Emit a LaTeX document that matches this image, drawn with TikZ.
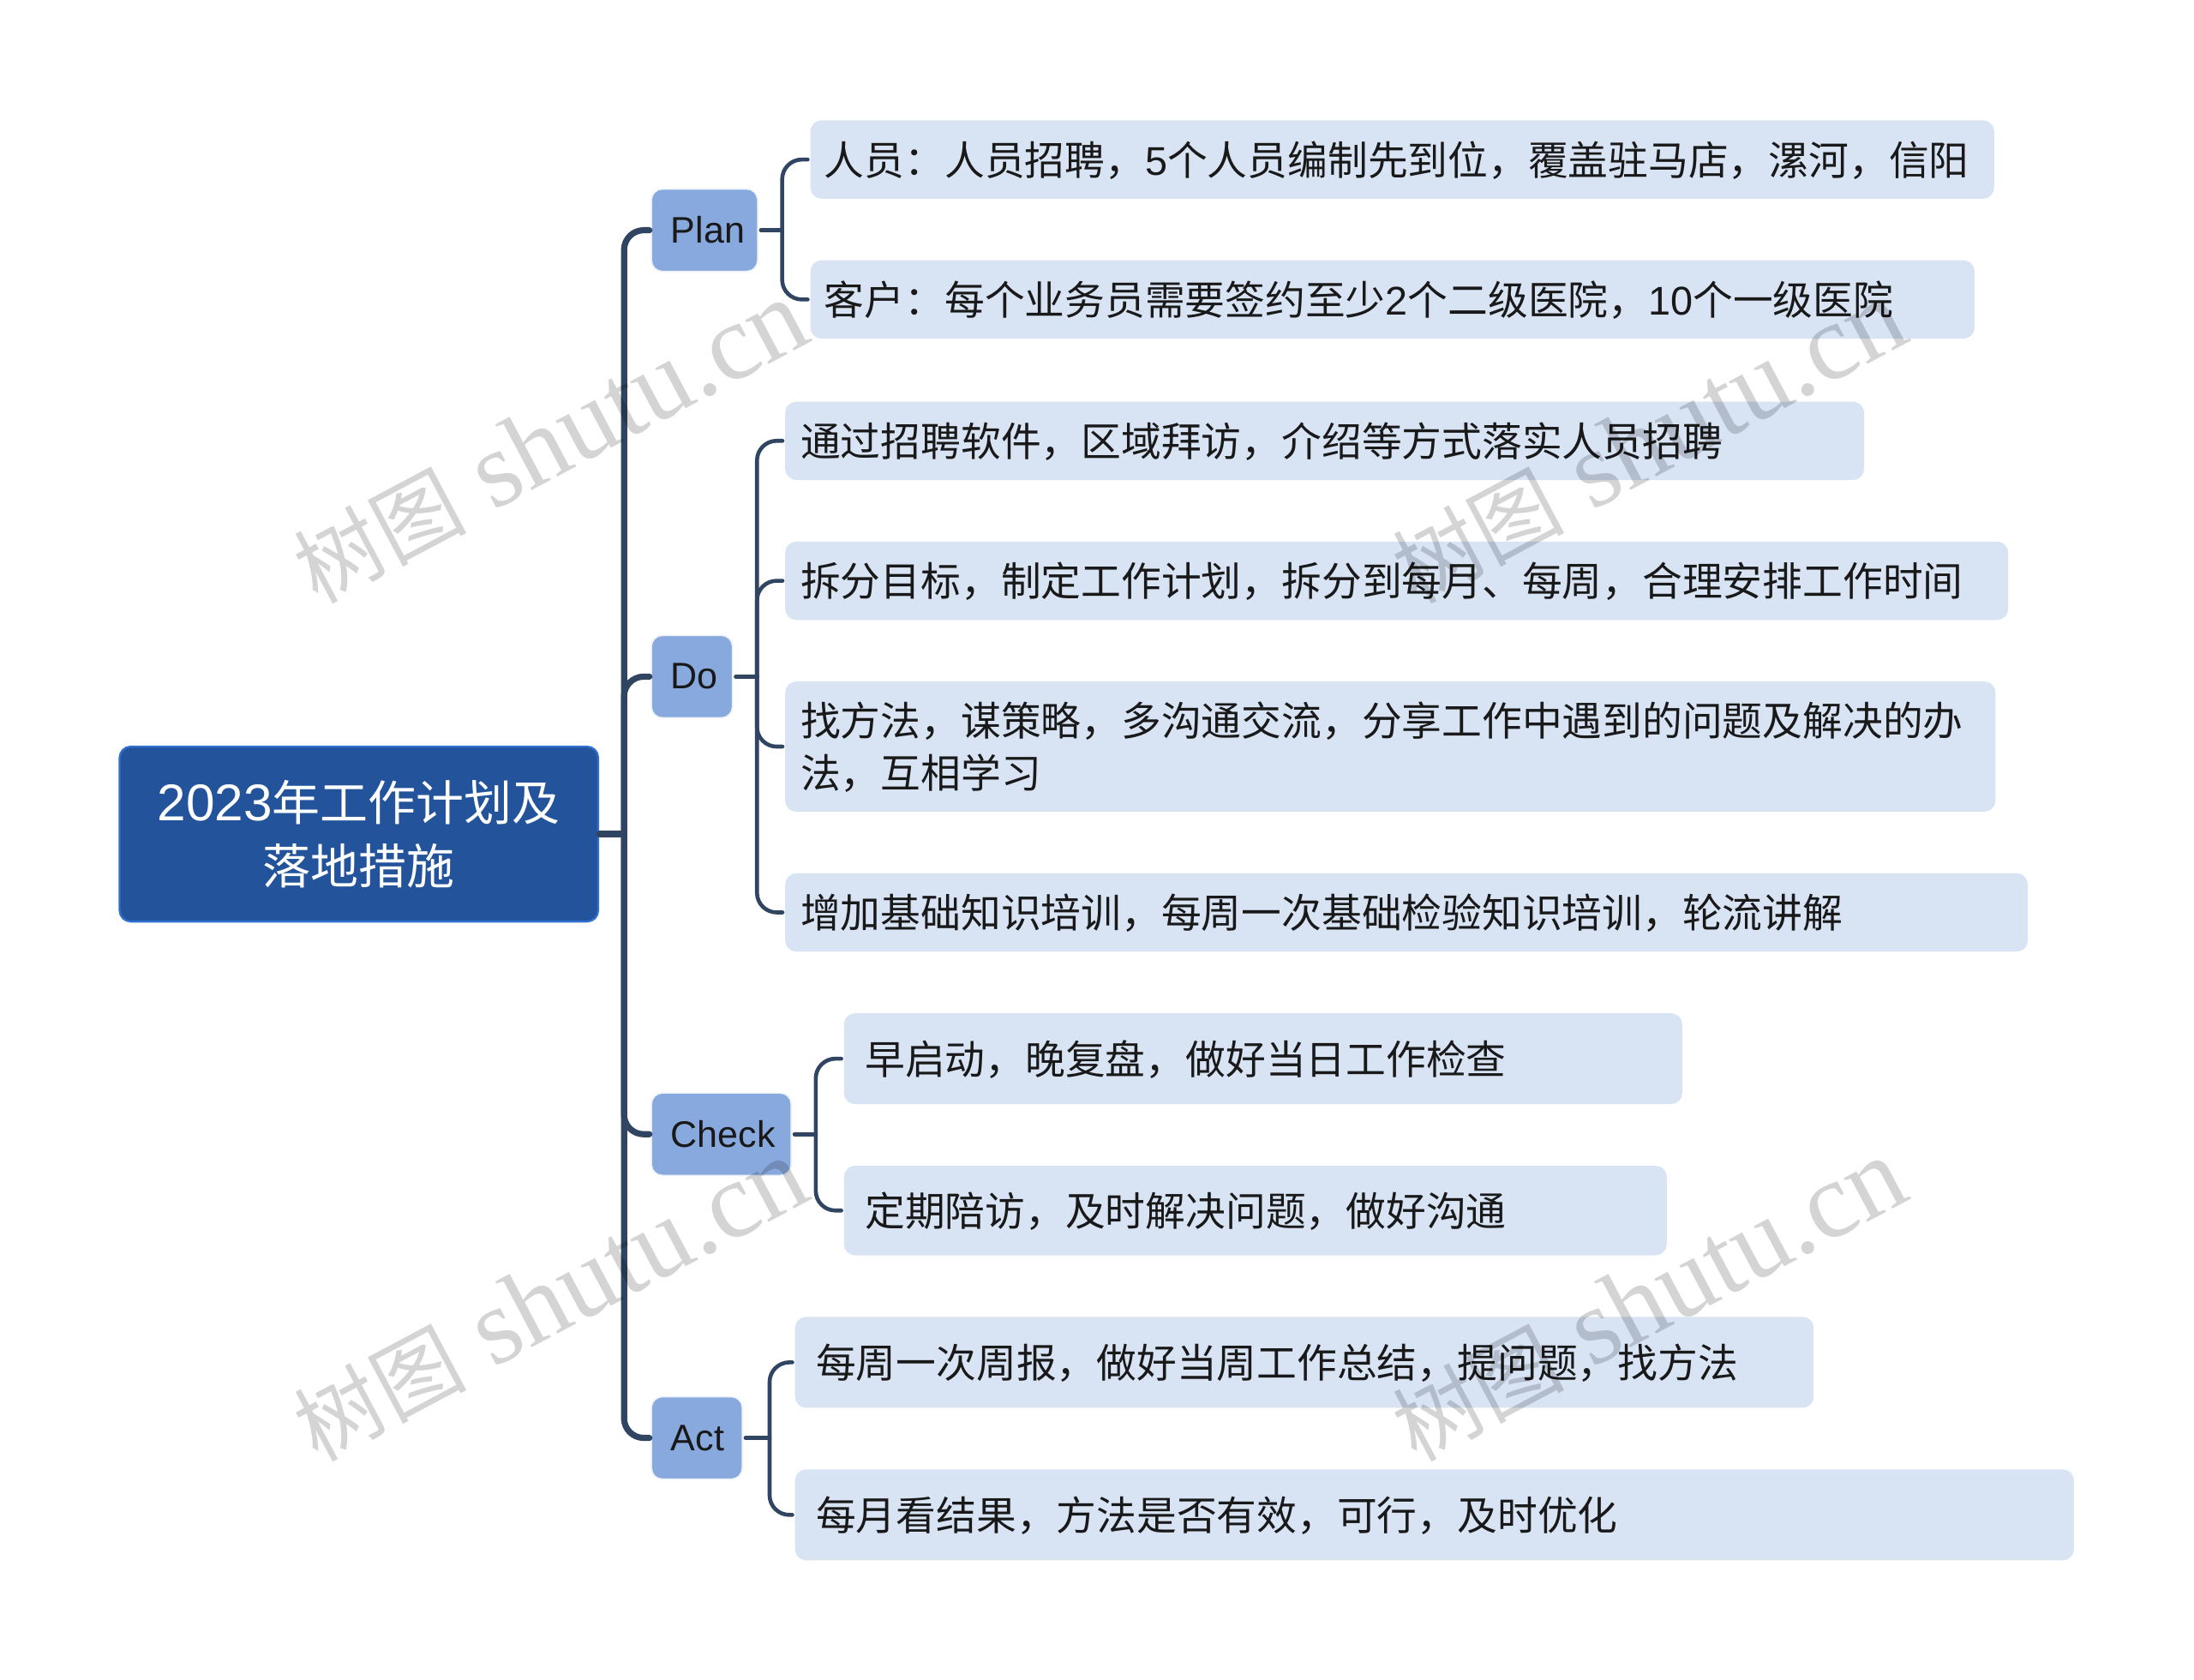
\documentclass[tikz,border=0pt]{standalone}
\usepackage{fontspec}
\setmainfont{Liberation Sans}
\newfontfamily\cjk{Noto Sans CJK SC}
\newfontfamily\wmark{Liberation Serif}
\usetikzlibrary{calc}
\definecolor{rootblue}{HTML}{23549B}
\definecolor{rootedge}{HTML}{2E6FD0}
\definecolor{midblue}{HTML}{88A9DE}
\definecolor{midedge}{HTML}{EEF3FB}
\definecolor{paleblue}{HTML}{D8E3F4}
\definecolor{linkcol}{HTML}{2F4562}
\tikzset{
	rootbox/.style={rounded corners=9pt,fill=rootblue,draw=rootedge,line width=1.6pt,text=white,align=center,font=\fontsize{39}{52}\selectfont},
	midbox/.style={rounded corners=9pt,fill=midblue,draw=midedge,line width=1.2pt,text=black!90,anchor=west,align=left,inner xsep=14*0.04cm,font=\fontsize{30}{36}\selectfont},
	leafbox/.style={rounded corners=9pt,fill=paleblue,anchor=west,align=left,text=black!90,inner ysep=0pt,text height=28.5pt,font=\cjk\fontsize{32.6}{43}\selectfont},
	biglink/.style={draw=linkcol,line width=5pt,rounded corners=16pt},
	smalllink/.style={draw=linkcol,line width=3.2pt,rounded corners=16pt},
	stamp/.style={text=black,text opacity=0.17,rotate=28,font=\wmark\fontsize{88}{88}\selectfont},
}
\newcommand{\lat}[1]{{\fontspec{Liberation Sans}#1}}
\newcommand{\zhcomma}{\char"FF0C }
\newcommand{\zhcolon}{\char"FF1A }
\begin{document}
\begin{tikzpicture}[x=0.04cm,y=-0.04cm,line join=round,line cap=round]
	\useasboundingbox (0,0) rectangle (1568,1200);
	% root and the four groups
	\node[rootbox,minimum width=342*0.04cm,minimum height=125*0.04cm] (root) at (256.5,596) {{\fontsize{42}{52}\selectfont 2023}{\cjk 年工作计划及}\\{\cjk 落地措施}};
	\node[midbox,text width=48*0.04cm,minimum height=59*0.04cm] (plan) at (465,164.5) {Plan};
	\node[midbox,text width=30*0.04cm,minimum height=59*0.04cm] (do) at (465,483.5) {Do};
	\node[midbox,text width=72*0.04cm,minimum height=59*0.04cm] (check) at (465,810.5) {Check};
	\node[midbox,text width=37*0.04cm,minimum height=59*0.04cm] (act) at (465,1027.5) {Act};
	% leaves
	\node[leafbox,text width=826*0.04cm,inner xsep=10*0.04cm,minimum height=56*0.04cm] (plana) at (579,114) {人员\zhcolon 人员招聘\zhcomma \lat{5}个人员编制先到位\zhcomma 覆盖驻马店\zhcomma 漯河\zhcomma 信阳};
	\node[leafbox,text width=812*0.04cm,inner xsep=10*0.04cm,minimum height=56*0.04cm] (planb) at (579,214) {客户\zhcolon 每个业务员需要签约至少\lat{2}个二级医院\zhcomma \lat{10}个一级医院};
	\node[leafbox,text width=749*0.04cm,inner xsep=11*0.04cm,minimum height=56*0.04cm] (doa) at (561,315) {通过招聘软件\zhcomma 区域拜访\zhcomma 介绍等方式落实人员招聘};
	\node[leafbox,text width=852*0.04cm,inner xsep=11*0.04cm,minimum height=56*0.04cm] (dob) at (561,415) {拆分目标\zhcomma 制定工作计划\zhcomma 拆分到每月、每周\zhcomma 合理安排工作时间};
	\node[leafbox,text width=843*0.04cm,inner xsep=11*0.04cm,minimum height=93*0.04cm] (doc) at (561,533.5) {找方法\zhcomma 谋策略\zhcomma 多沟通交流\zhcomma 分享工作中遇到的问题及解决的办\\法\zhcomma 互相学习};
	\node[leafbox,text width=866*0.04cm,inner xsep=11*0.04cm,minimum height=56*0.04cm] (dod) at (561,652) {增加基础知识培训\zhcomma 每周一次基础检验知识培训\zhcomma 轮流讲解};
	\node[leafbox,text width=569*0.04cm,inner xsep=15*0.04cm,minimum height=65*0.04cm] (checka) at (603,756.5) {早启动\zhcomma 晚复盘\zhcomma 做好当日工作检查};
	\node[leafbox,text width=558*0.04cm,inner xsep=15*0.04cm,minimum height=64*0.04cm] (checkb) at (603,865) {定期陪访\zhcomma 及时解决问题\zhcomma 做好沟通};
	\node[leafbox,text width=698*0.04cm,inner xsep=15*0.04cm,minimum height=65*0.04cm] (acta) at (568,973.5) {每周一次周报\zhcomma 做好当周工作总结\zhcomma 提问题\zhcomma 找方法};
	\node[leafbox,text width=884*0.04cm,inner xsep=15*0.04cm,minimum height=65*0.04cm] (actb) at (568,1082.5) {每月看结果\zhcomma 方法是否有效\zhcomma 可行\zhcomma 及时优化};
	% trunk
	\coordinate (bus) at (446,596);
	\draw[biglink] (root.east) -- (bus);
	\foreach \g in {plan,do,check,act}{\draw[biglink,shorten >=1pt] (bus) |- (\g.west);}
	% branches
	\coordinate (planbus) at (559,164.5);
	\coordinate (dobus) at (541,483.5);
	\coordinate (checkbus) at (583,810.5);
	\coordinate (actbus) at (550,1027.5);
	\draw[smalllink,shorten <=2pt] (plan.east) -- (planbus);
	\draw[smalllink,shorten <=2pt] (do.east) -- (dobus);
	\draw[smalllink,shorten <=2pt] (check.east) -- (checkbus);
	\draw[smalllink,shorten <=2pt] (act.east) -- (actbus);
	\foreach \i/\j in {planbus/plana,planbus/planb,dobus/doa,dobus/dob,dobus/doc,dobus/dod,checkbus/checka,checkbus/checkb,actbus/acta,actbus/actb}{
		\draw[smalllink,shorten >=2pt] (\i) |- (\j.west);}
	% stamps lie over everything
	\foreach \i/\j in {0/0,785/0,0/613,785/613}{
		\node[stamp] at ($(393,316)+(\i,\j)$) {{\cjk\fontsize{70}{70}\selectfont 树图} shutu.cn};}
\end{tikzpicture}
\end{document}
